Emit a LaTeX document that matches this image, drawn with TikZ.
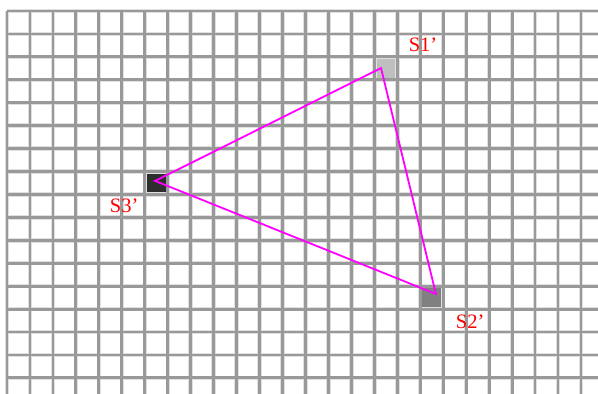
\documentclass[tikz,border=0pt]{standalone}
\usepackage{fontspec}
\setmainfont{Liberation Serif}
\usetikzlibrary{arrows.meta,positioning}
\definecolor{trimag}{RGB}{255,0,255}
\definecolor{labred}{RGB}{255,0,0}

\begin{document}
\begin{tikzpicture}[x=22.96pt,y=-22.93pt]
\useasboundingbox (-0.305,-0.48) rectangle (25.74,16.70);
% marked cells
\node[minimum width=22.96pt,minimum height=22.93pt,inner sep=0pt,fill=black!25] (s1) at (16.5,2.5) {};
\node[minimum width=22.96pt,minimum height=22.93pt,inner sep=0pt,fill=black!50] (s2) at (18.5,12.5) {};
\node[minimum width=22.96pt,minimum height=22.93pt,inner sep=0pt,fill=black!82] (s3) at (6.5,7.5) {};
% grid
\foreach \k in {0,...,25} \draw[line width=4.4pt,black!12] (\k,0)--(\k,16.70);
\foreach \j in {0,...,16} \draw[line width=4.4pt,black!12] (0,\j)--(25.74,\j);
\foreach \k in {0,...,25} \draw[line width=2.8pt,black!40] (\k,0)--(\k,16.70);
\foreach \j in {0,...,16} \draw[line width=2.8pt,black!40] (0,\j)--(25.74,\j);
% triangle
\coordinate (v1) at (16.29,2.49);
\coordinate (v2) at (18.68,12.34);
\coordinate (v3) at (6.45,7.41);
\draw[trimag,line width=1.8pt,line join=miter] (v1)--(v2)--(v3)--cycle;
% labels
\node[text=labred,font=\fontsize{20.5}{24}\selectfont,inner sep=0pt] (l1) at (18.12,1.48) {S1'};
\node[text=labred,font=\fontsize{20.5}{24}\selectfont,inner sep=0pt] (l2) at (20.17,13.56) {S2'};
\node[text=labred,font=\fontsize{20.5}{24}\selectfont,inner sep=0pt] (l3) at (5.1,8.5) {S3'};
\end{tikzpicture}
\end{document}
